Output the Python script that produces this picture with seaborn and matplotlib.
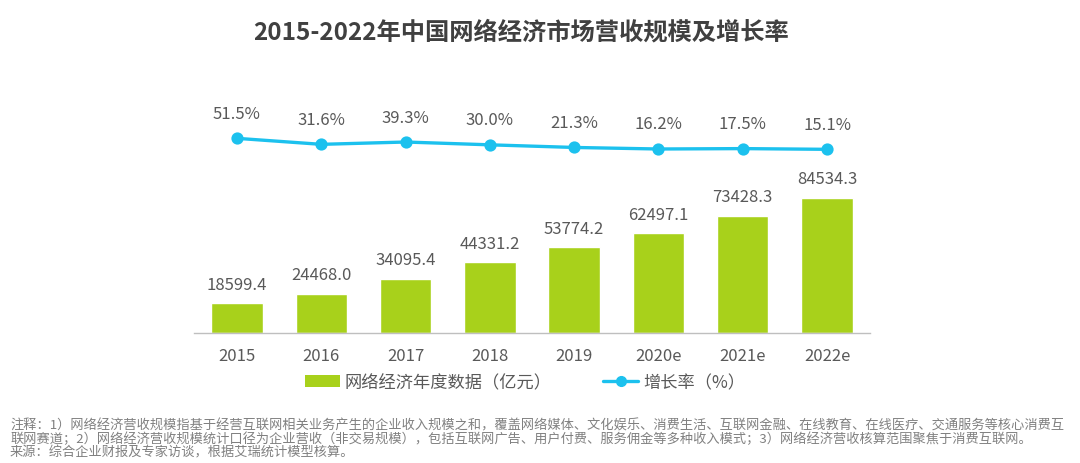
import matplotlib
matplotlib.use("Agg")
import matplotlib.pyplot as plt
import seaborn as sns
import pandas as pd
from matplotlib.patches import Patch
from matplotlib.lines import Line2D

sns.set_theme(style="white")
plt.rcParams['font.family'] = ['Noto Sans CJK SC', 'DejaVu Sans']
plt.rcParams['axes.unicode_minus'] = False

# ---- data ----
years = ["2015", "2016", "2017", "2018", "2019", "2020e", "2021e", "2022e"]
revenue = [18599.4, 24468.0, 34095.4, 44331.2, 53774.2, 62497.1, 73428.3, 84534.3]
growth = [51.5, 31.6, 39.3, 30.0, 21.3, 16.2, 17.5, 15.1]

title = "2015-2022年中国网络经济市场营收规模及增长率"
bar_label = "网络经济年度数据（亿元）"
line_label = "增长率（%）"
notes = [
    "注释：1）网络经济营收规模指基于经营互联网相关业务产生的企业收入规模之和，覆盖网络媒体、文化娱乐、消费生活、互联网金融、在线教育、在线医疗、交通服务等核心消费互",
    "联网赛道；2）网络经济营收规模统计口径为企业营收（非交易规模），包括互联网广告、用户付费、服务佣金等多种收入模式；3）网络经济营收核算范围聚焦于消费互联网。",
    "来源：综合企业财报及专家访谈，根据艾瑞统计模型核算。",
]

bar_color = "#A8D11B"
line_color = "#1CC1EE"
text_color = "#595959"

df = pd.DataFrame({"year": years, "revenue": revenue, "growth": growth})

W, H = 1080, 464
fig = plt.figure(figsize=(W / 100, H / 100), dpi=100)
ax = fig.add_axes([194 / W, (H - 334) / H, 676 / W, 239 / H])

sns.barplot(data=df, x="year", y="revenue", color=bar_color, width=0.61,
            saturation=1, ax=ax)
ax.set_ylim(0, 149657)
ax.set_xlim(-0.51, 7.51)
for s in ["top", "right", "left"]:
    ax.spines[s].set_visible(False)
ax.spines["bottom"].set_color("#BFBFBF")
ax.spines["bottom"].set_linewidth(1.0)
ax.set_yticks([])
ax.set_xlabel("")
ax.set_ylabel("")
ax.tick_params(axis="x", length=0, pad=10, labelsize=12, labelcolor=text_color)

for i, v in enumerate(revenue):
    ax.annotate(f"{v:.1f}", xy=(i, v), xytext=(0, 13.7), textcoords="offset points",
                ha="center", va="center", fontsize=12, color=text_color)

ax2 = ax.twinx()
sns.pointplot(data=df, x="year", y="growth", color=line_color, markers="o",
              linestyles="-", ax=ax2, markersize=7, linewidth=2.4)
ax2.set_ylim(-593.1, 198.3)
ax2.set_xlim(-0.51, 7.51)
ax2.set_yticks([])
ax2.set_ylabel("")
ax2.set_xlabel("")
for s in ["top", "right", "left", "bottom"]:
    ax2.spines[s].set_visible(False)
for i, g in enumerate(growth):
    ax2.annotate(f"{g:.1f}%", xy=(i, g), xytext=(0, 18), textcoords="offset points",
                 ha="center", va="center", fontsize=12, color=text_color)

fig.text(521.5 / W, 1 - 32 / H, title, ha="center", va="center", fontsize=17.5,
         fontweight="bold", color="#404040")

handles = [Patch(facecolor=bar_color, edgecolor="none"),
           Line2D([0], [0], color=line_color, marker="o", markersize=7, linewidth=2.4)]
fig.legend(handles, [bar_label, line_label], loc="center",
           bbox_to_anchor=(525 / W, 1 - 383 / H), ncol=2, frameon=False,
           fontsize=12.4, labelcolor=text_color, handlelength=2.0, handleheight=0.7,
           handletextpad=0.3, columnspacing=3.0)

for k, line in enumerate(notes):
    fig.text(10 / W, 1 - (425.5 + 13.5 * k) / H, line, ha="left", va="center",
             fontsize=9.5, color="#808080")

fig.savefig("out.png", dpi=100)
